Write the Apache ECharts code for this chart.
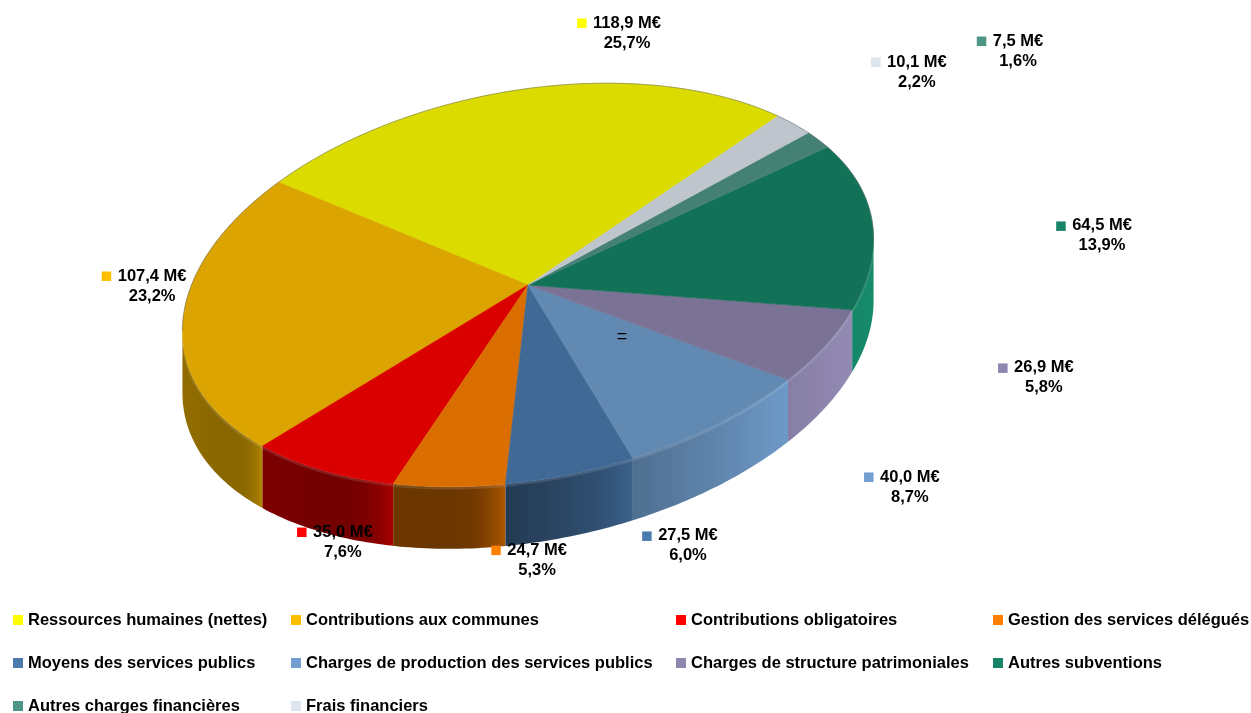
<!DOCTYPE html>
<html>
<head>
<meta charset="utf-8">
<script src="https://cdn.jsdelivr.net/npm/echarts@6/dist/echarts.min.js"></script>
<style>
  html, body { margin: 0; padding: 0; background: #ffffff; }
  #chart { width: 1251px; height: 713px; }
</style>
</head>
<body>
<div id="chart"></div>
<script>
// Budget breakdown, in millions of euros
const categories = [
  'Ressources humaines (nettes)',
  'Contributions aux communes',
  'Contributions obligatoires',
  'Gestion des services délégués',
  'Moyens des services publics',
  'Charges de production des services publics',
  'Charges de structure patrimoniales',
  'Autres subventions',
  'Autres charges financières',
  'Frais financiers'
];
const amounts = [118.9, 107.4, 35.0, 24.7, 27.5, 40.0, 26.9, 64.5, 7.5, 10.1];
const shares = [25.7, 23.2, 7.6, 5.3, 6.0, 8.7, 5.8, 13.9, 1.6, 2.2];
const colors = ['#FFFF00', '#FFBF00', '#FF0000', '#FF8000', '#4A7AAE',
                '#729FCF', '#8E86AE', '#158466', '#4F9586', '#DDE5EE'];

// Legend grid: [column, row] of each category
const legendCell = [[0, 0], [1, 0], [2, 0], [3, 0], [0, 1], [1, 1], [2, 1], [3, 1], [0, 2], [1, 2]];
const legendColX = [13, 291, 676, 993];
const legendRowY = [610, 653, 696];

// Tilted disc geometry (pixels / degrees)
const disc = { cx: 528, cy: 285, rx: 350, ry: 194, tilt: 11, depth: 62, start: 37.5 };
// Label block centres, in units of the disc radii from the disc centre
const labelSpots = [
  [0.283, -1.299], [-1.074, 0.005], [-0.529, 1.325], [0.026, 1.418], [0.457, 1.345],
  [1.091, 1.041], [1.474, 0.479], [1.640, -0.253], [1.400, -1.206], [1.111, -1.098]
];

const FONT = '"Liberation Sans", Arial, Helvetica, sans-serif';
const FONT_SIZE = 16.5;

const total = amounts.reduce((a, b) => a + b, 0);
const starts = [];
(function () {
  let acc = 0;
  amounts.forEach(v => { starts.push(disc.start + acc / total * 360); acc += v; });
})();

const DEG = Math.PI / 180;
const phi = disc.tilt * DEG;
// parameter angles of the rightmost / leftmost rim points
const tRight = Math.atan2(-disc.ry * Math.sin(phi), disc.rx * Math.cos(phi)) / DEG;
const tLeft = tRight + 180;

function rim(t, drop) {
  const r = t * DEG;
  const ex = disc.rx * Math.cos(r), ey = disc.ry * Math.sin(r);
  const x = ex * Math.cos(phi) - ey * Math.sin(phi);
  const y = ex * Math.sin(phi) + ey * Math.cos(phi);
  return [disc.cx + x, disc.cy - y + (drop || 0)];
}

function shade(hex, f) {
  const n = parseInt(hex.slice(1), 16);
  const ch = [(n >> 16) & 255, (n >> 8) & 255, n & 255].map(c => Math.max(0, Math.min(255, Math.round(c * f))));
  return 'rgb(' + ch.join(',') + ')';
}

// brightness of the side wall, lit from the front right
function light(t) {
  const main = Math.max(0, Math.cos((t - 345) * DEG));
  const side = Math.pow(Math.max(0, Math.cos((t - 180) * DEG)), 4);
  return 0.42 + 0.62 * main + 0.15 * side;
}

const measureCtx = document.createElement('canvas').getContext('2d');
function textWidth(s) {
  measureCtx.font = 'bold ' + FONT_SIZE + 'px ' + FONT;
  return measureCtx.measureText(s).width;
}

function fmt(v) { return v.toFixed(1).replace('.', ','); }

function intervals(a0, a1, lo, hi) {
  const out = [];
  for (let k = -2; k <= 2; k++) {
    const s = Math.max(a0, lo + 360 * k), e = Math.min(a1, hi + 360 * k);
    if (e > s) out.push([s, e]);
  }
  return out;
}

function makeSlice(i) {
  return function (params, api) {
    const a0 = starts[i];
    const a1 = a0 + amounts[i] / total * 360;
    const children = [];

    // front side wall, shaded left to right with a glint at its right end
    intervals(a0, a1, tLeft, tRight + 360).forEach(([s, e]) => {
      const n = Math.max(2, Math.ceil(e - s));
      const upper = [], lower = [];
      for (let j = 0; j <= n; j++) {
        const t = s + (e - s) * j / n;
        upper.push(rim(t));
        lower.unshift(rim(t, disc.depth));
      }
      const x0 = upper[0][0], x1 = upper[n][0];
      const span = Math.max(1e-6, x1 - x0);
      const stops = [];
      const k = 24;
      for (let j = 0; j <= k; j++) {
        const t = s + (e - s) * j / k;
        const u = Math.min(1, Math.max(0, (rim(t)[0] - x0) / span));
        const base = light(t);
        const f = base + 0.4 * Math.pow(u, 6) * Math.max(0, 1 - base);
        stops.push({ offset: u, color: shade(colors[i], f) });
      }
      children.push({
        type: 'polygon',
        shape: { points: upper.concat(lower) },
        style: {
          fill: { type: 'linear', x: x0, y: 0, x2: x1, y2: 0, global: true, colorStops: stops },
          stroke: null
        }
      });
      // soft bevel along the upper edge of the wall
      children.push({
        type: 'polyline',
        shape: { points: upper.map(p => [p[0], p[1] + 1.5]) },
        style: { fill: null, stroke: 'rgba(255,255,255,0.12)', lineWidth: 2.5 }
      });
    });

    // top face
    const pts = [[disc.cx, disc.cy]];
    const steps = Math.max(2, Math.ceil(a1 - a0));
    for (let j = 0; j <= steps; j++) pts.push(rim(a0 + (a1 - a0) * j / steps));
    const top = shade(colors[i], 0.86);
    children.push({
      type: 'polygon',
      shape: { points: pts },
      style: { fill: top, stroke: top, lineWidth: 0.6 }
    });

    // faint outline along the back rim
    intervals(a0, a1, tRight, tLeft).forEach(([s, e]) => {
      const line = [];
      const n = Math.max(2, Math.ceil(e - s));
      for (let j = 0; j <= n; j++) line.push(rim(s + (e - s) * j / n));
      children.push({
        type: 'polyline',
        shape: { points: line },
        style: { fill: null, stroke: 'rgba(110,110,110,0.55)', lineWidth: 1 }
      });
    });

    // value label with its colour key
    const lx = disc.cx + labelSpots[i][0] * disc.rx;
    const ly = disc.cy + labelSpots[i][1] * disc.ry;
    const line1 = fmt(amounts[i]) + ' M€';
    const line2 = fmt(shares[i]) + '%';
    const w1 = textWidth(line1);
    const textStyle = {
      fill: '#000000', fontSize: FONT_SIZE, fontWeight: 'bold', fontFamily: FONT,
      align: 'center', verticalAlign: 'middle', textAlign: 'center', textVerticalAlign: 'middle'
    };
    children.push({ type: 'text', z2: 100, style: Object.assign({ text: line1, x: lx, y: ly - 10 }, textStyle) });
    children.push({ type: 'text', z2: 100, style: Object.assign({ text: line2, x: lx, y: ly + 10 }, textStyle) });
    children.push({
      type: 'rect',
      z2: 100,
      shape: { x: lx - w1 / 2 - 16, y: ly - 10 - 4.5, width: 9.5, height: 9.5 },
      style: { fill: colors[i] }
    });

    return { type: 'group', children: children };
  };
}

const chart = echarts.init(document.getElementById('chart'), null, { renderer: 'canvas' });

chart.setOption({
  backgroundColor: '#ffffff',
  animation: false,
  legend: categories.map((name, i) => ({
    orient: 'horizontal',
    left: legendColX[legendCell[i][0]],
    top: legendRowY[legendCell[i][1]],
    padding: 0,
    itemWidth: 10,
    itemHeight: 10,
    icon: 'rect',
    selectedMode: false,
    data: [{ name: name, itemStyle: { color: colors[i] } }],
    textStyle: { fontSize: FONT_SIZE, fontWeight: 'bold', color: '#000000', fontFamily: FONT, lineHeight: 20 }
  })),
  graphic: [{
    type: 'text',
    x: 622,
    y: 337,
    z: 100,
    silent: true,
    style: { text: '=', fontSize: 18, fill: '#000000', fontFamily: FONT,
             align: 'center', verticalAlign: 'middle', textAlign: 'center', textVerticalAlign: 'middle' }
  }],
  series: categories.map((name, i) => ({
    type: 'custom',
    name: name,
    coordinateSystem: 'none',
    silent: true,
    itemStyle: { color: colors[i] },
    data: [[amounts[i]]],
    renderItem: makeSlice(i)
  }))
});
</script>
</body>
</html>
